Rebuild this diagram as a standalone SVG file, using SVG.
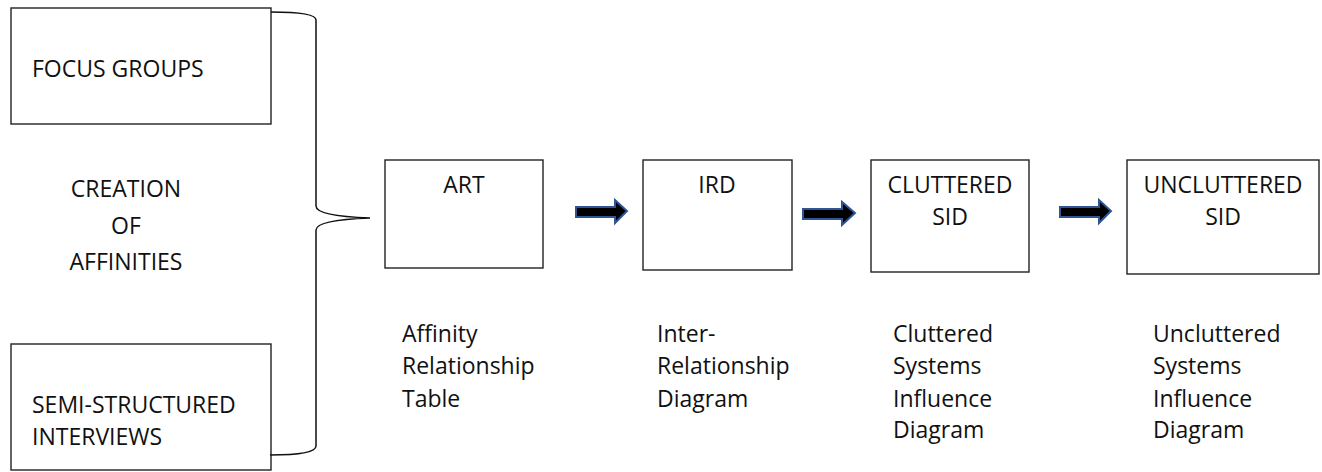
<svg xmlns="http://www.w3.org/2000/svg" width="1322" height="472" viewBox="0 0 1322 472">
<style>
.box{fill:#fff;stroke:#222;stroke-width:1.4}
.t{font-family:"Open Sans","Liberation Sans",sans-serif;font-size:23px;fill:#111}
.c{text-anchor:middle}
.arr{fill:#000;stroke:#2F5597;stroke-width:2;stroke-linejoin:miter}
.brace{fill:none;stroke:#111;stroke-width:1.5}
</style>
<rect width="1322" height="472" fill="#fff"/>
<g id="focus-groups">
<rect class="box" x="11" y="8" width="260" height="116"/>
<text class="t" x="32" y="77">FOCUS GROUPS</text>
</g>
<g id="semi-structured">
<rect class="box" x="11" y="344" width="260" height="126"/>
<text class="t" x="32" y="413">SEMI-STRUCTURED</text>
<text class="t" x="32" y="445">INTERVIEWS</text>
</g>
<g id="creation-label">
<text class="t c" x="126" y="197">CREATION</text>
<text class="t c" x="126" y="234">OF</text>
<text class="t c" x="126" y="270">AFFINITIES</text>
</g>
<g id="art">
<rect class="box" x="385" y="160" width="158" height="108"/>
<text class="t c" x="464" y="193">ART</text>
<text class="t" x="402" y="342">Affinity</text>
<text class="t" x="402" y="374">Relationship</text>
<text class="t" x="402" y="407">Table</text>
</g>
<g id="ird">
<rect class="box" x="643" y="160" width="149" height="110"/>
<text class="t c" x="717" y="193">IRD</text>
<text class="t" x="657" y="342">Inter-</text>
<text class="t" x="657" y="374">Relationship</text>
<text class="t" x="657" y="407">Diagram</text>
</g>
<g id="cluttered-sid">
<rect class="box" x="871" y="160" width="158" height="112"/>
<text class="t c" x="950" y="193">CLUTTERED</text>
<text class="t c" x="950" y="225">SID</text>
<text class="t" x="893" y="342">Cluttered</text>
<text class="t" x="893" y="374">Systems</text>
<text class="t" x="893" y="407">Influence</text>
<text class="t" x="893" y="438">Diagram</text>
</g>
<g id="uncluttered-sid">
<rect class="box" x="1127" y="160" width="192" height="114"/>
<text class="t c" x="1223" y="193">UNCLUTTERED</text>
<text class="t c" x="1223" y="225">SID</text>
<text class="t" x="1153" y="342">Uncluttered</text>
<text class="t" x="1153" y="374">Systems</text>
<text class="t" x="1153" y="407">Influence</text>
<text class="t" x="1153" y="438">Diagram</text>
</g>
<g id="connectors">
<path class="brace" d="M271,12 Q316,12 316,20 L316,206 Q316,216 370,218 Q316,220 316,230 L316,446 Q316,455 270,455"/>
<path class="arr" d="M576,207 L615,207 L615,200 L627,211 L615,223 L615,217 L576,217 Z"/>
<path class="arr" d="M803,209 L842,209 L842,202 L855,213 L842,225 L842,219 L803,219 Z"/>
<path class="arr" d="M1060,207 L1099,207 L1099,200 L1111,211 L1099,223 L1099,217 L1060,217 Z"/>
</g>
</svg>
